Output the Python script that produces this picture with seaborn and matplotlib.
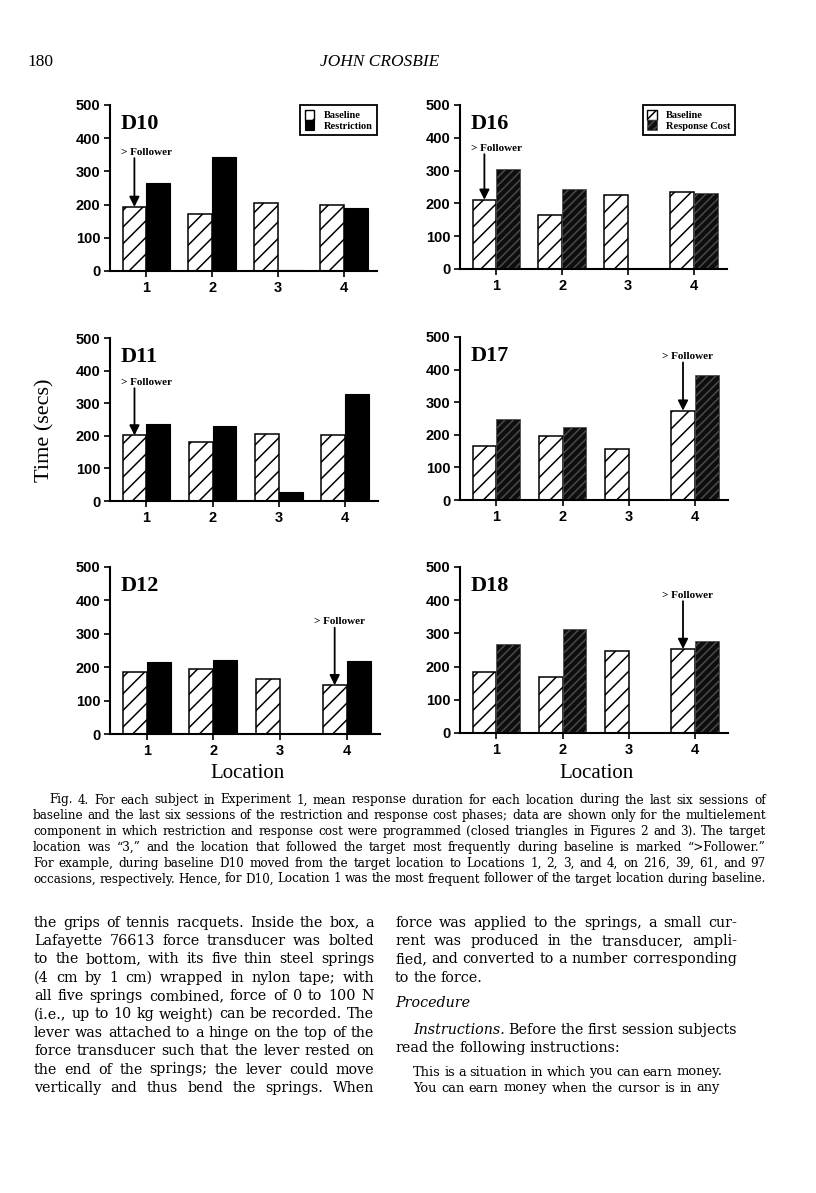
import matplotlib
matplotlib.use("Agg")
import matplotlib.pyplot as plt
import seaborn as sns
import pandas as pd
from matplotlib.patches import Patch

W, H = 816, 1193

# mean response duration (secs), locations 1-4
locations = [1, 2, 3, 4]
d10_baseline = [193, 171, 205, 200]
d10_restriction = [265, 342, 4, 190]
d11_baseline = [201, 180, 206, 201]
d11_restriction = [236, 229, 27, 327]
d12_baseline = [185, 196, 165, 146]
d12_restriction = [217, 223, 0, 219]
d16_baseline = [211, 165, 226, 234]
d16_cost = [305, 243, 0, 232]
d17_baseline = [165, 195, 157, 274]
d17_cost = [250, 224, 0, 384]
d18_baseline = [185, 170, 246, 253]
d18_cost = [267, 312, 0, 278]

# subject, phase, baseline, treatment, follower location
panels = [
    ("D10", "Restriction", d10_baseline, d10_restriction, 1),
    ("D11", "Restriction", d11_baseline, d11_restriction, 1),
    ("D12", "Restriction", d12_baseline, d12_restriction, 4),
    ("D16", "Response Cost", d16_baseline, d16_cost, 1),
    ("D17", "Response Cost", d17_baseline, d17_cost, 4),
    ("D18", "Response Cost", d18_baseline, d18_cost, 4),
]

# layout: axes box in page pixels (left, top, right, bottom), follower label placement
boxes = {
    "D10": (110, 105, 377, 271), "D11": (110, 338, 378, 501), "D12": (110, 567, 380, 734),
    "D16": (460, 105, 727, 269), "D17": (460, 337, 728, 500), "D18": (460, 567, 728, 733),
}
follower_text = {
    "D10": (-0.2, 358, "left"), "D11": (-0.2, 364, "left"), "D12": (0.07, 336, "center"),
    "D16": (-0.2, 368, "left"), "D17": (0.07, 440, "center"), "D18": (0.07, 415, "center"),
}
legend_panels = {"D10": 1.0, "D16": 1.03}

caption_lines = [
    "Fig. 4.  For each subject in Experiment 1, mean response duration for each location during the last six sessions of",
    "baseline and the last six sessions of the restriction and response cost phases; data are shown only for the multielement",
    "component in which restriction and response cost were programmed (closed triangles in Figures 2 and 3). The target",
    "location was \u201c3,\u201d and the location that followed the target most frequently during baseline is marked \u201c>Follower.\u201d",
    "For example, during baseline D10 moved from the target location to Locations 1, 2, 3, and 4, on 216, 39, 61, and 97",
    "occasions, respectively. Hence, for D10, Location 1 was the most frequent follower of the target location during baseline.",
]
left_lines = [
    "the grips of tennis racquets. Inside the box, a",
    "Lafayette 76613 force transducer was bolted",
    "to the bottom, with its five thin steel springs",
    "(4 cm by 1 cm) wrapped in nylon tape; with",
    "all five springs combined, force of 0 to 100 N",
    "(i.e., up to 10 kg weight) can be recorded. The",
    "lever was attached to a hinge on the top of the",
    "force transducer such that the lever rested on",
    "the end of the springs; the lever could move",
    "vertically and thus bend the springs. When",
]
right_lines = [
    "force was applied to the springs, a small cur-",
    "rent was produced in the transducer, ampli-",
    "fied, and converted to a number corresponding",
    "to the force.",
    "Procedure",
    "Instructions. Before the first session subjects",
    "read the following instructions:",
]
quote_lines = [
    "This is a situation in which you can earn money.",
    "You can earn money when the cursor is in any",
]
italic_words = {"Procedure", "Instructions."}
serif = ["DejaVu Serif", "Liberation Serif"]

sns.set_style("ticks")
plt.rcParams.update({
    "font.family": ["Liberation Sans", "DejaVu Sans"],
    "hatch.linewidth": 1.1,
    "axes.linewidth": 1.5,
    "text.color": "black",
    "axes.edgecolor": "black",
    "axes.labelcolor": "black",
    "xtick.color": "black",
    "ytick.color": "black",
})

fig = plt.figure(figsize=(W / 100, H / 100), dpi=100)
fig.patch.set_facecolor("white")


def px_axes(left, top, right, bottom):
    return fig.add_axes([left / W, 1 - bottom / H, (right - left) / W, (bottom - top) / H])


def ptext(x, y, s, **kw):
    return fig.text(x / W, 1 - y / H, s, **kw)


def treat_style(phase):
    if phase == "Response Cost":
        return dict(facecolor="#0e0e0e", edgecolor="#4a4a4a", hatch="////", linewidth=0.5)
    return dict(facecolor="black", edgecolor="black", hatch=None, linewidth=0.8)


for name, phase, base, treat, follower in panels:
    ax = px_axes(*boxes[name])
    df = pd.DataFrame({
        "Location": locations * 2,
        "Time": base + treat,
        "Phase": ["Baseline"] * 4 + [phase] * 4,
    })
    sns.barplot(data=df, x="Location", y="Time", hue="Phase", hue_order=["Baseline", phase],
                palette=["white", "black"], width=0.72, saturation=1, errorbar=None,
                legend=False, ax=ax)

    for p in ax.patches[:4]:
        p.set_facecolor("white")
        p.set_edgecolor("black")
        p.set_linewidth(1.1)
        p.set_hatch("//")
    st = treat_style(phase)
    for p in ax.patches[4:]:
        p.set_facecolor(st["facecolor"])
        p.set_edgecolor(st["edgecolor"])
        p.set_linewidth(st["linewidth"])
        if st["hatch"]:
            p.set_hatch(st["hatch"])

    ax.set_ylim(0, 500)
    ax.set_xlim(-0.55, 3.5)
    ax.set_xlabel("")
    ax.set_ylabel("")
    ax.set_yticks(range(0, 501, 100))
    ax.set_yticklabels([str(v) for v in range(0, 501, 100)], fontweight="bold")
    ax.set_xticks(range(len(locations)))
    ax.set_xticklabels([str(l) for l in locations], fontweight="bold")
    ax.tick_params(axis="both", labelsize=10.5, length=4, width=1.2, color="black", pad=3)
    sns.despine(ax=ax)
    ax.patch.set_alpha(0)

    ax.text(0.04, 0.885, name, transform=ax.transAxes, fontsize=16, fontweight="bold",
            family="Liberation Serif", ha="left", va="center")

    # follower arrow onto the baseline bar
    fb = ax.patches[follower - 1]
    bx = fb.get_x() + fb.get_width() / 2
    top = fb.get_height()
    dx, ty, ha = follower_text[name]
    ax.text(bx + dx, ty, "> Follower", ha=ha, va="center", fontsize=8, fontweight="bold",
            family="Liberation Serif")
    ax.annotate("", xy=(bx, top), xytext=(bx, ty - 18),
                arrowprops=dict(arrowstyle="-|>,head_length=0.6,head_width=0.3", color="black",
                                lw=1.3, shrinkA=0, shrinkB=0))

    if name in legend_panels:
        handles = [Patch(facecolor="white", edgecolor="black", hatch="//", linewidth=1.0),
                   Patch(facecolor=st["facecolor"], edgecolor=st["edgecolor"],
                         hatch=st["hatch"], linewidth=st["linewidth"])]
        leg = ax.legend(handles, ["Baseline", phase], loc="upper right",
                        bbox_to_anchor=(legend_panels[name], 1.0), frameon=True, fancybox=False,
                        edgecolor="black", framealpha=1,
                        prop={"family": "Liberation Serif", "weight": "bold", "size": 7.5},
                        handlelength=0.9, handleheight=1.1, handletextpad=0.9,
                        labelspacing=0.0, borderpad=0.45, borderaxespad=0)
        leg.get_frame().set_linewidth(1.3)

# shared labels
ptext(45, 430, "Time (secs)", rotation=90, family="Liberation Serif", fontsize=16,
      ha="center", va="center")
ptext(248, 773, "Location", family="Liberation Serif", fontsize=15, ha="center", va="center")
ptext(597, 773, "Location", family="Liberation Serif", fontsize=15, ha="center", va="center")

# running head
ptext(27, 62, "180", family="Liberation Serif", fontsize=12.5, ha="left", va="center")
ptext(380, 62, "JOHN CROSBIE", family="Liberation Serif", style="italic", fontsize=12.5,
      ha="center", va="center")

renderer = fig.canvas.get_renderer()


def word_widths(line, size):
    out = []
    for w in line.split():
        st = "italic" if w in italic_words else "normal"
        t = ptext(0, 0, w, family=serif, style=st, fontsize=size)
        out.append(t.get_window_extent(renderer).width)
        t.remove()
    return out


def fit_size(lines, width, min_gap=0.26, base=10.0):
    # biggest size at which every line still fits with a normal word space
    best = 100.0
    for line in lines:
        ws = word_widths(line, base)
        need = sum(ws) + (len(ws) - 1) * min_gap * base * 100 / 72
        best = min(best, base * width / need)
    return best


def set_line(line, x0, x1, y, size, justify=True):
    words = line.split()
    texts = []
    for w in words:
        st = "italic" if w in italic_words else "normal"
        texts.append(ptext(x0, y, w, family=serif, style=st, fontsize=size,
                           ha="left", va="center"))
    widths = [t.get_window_extent(renderer).width for t in texts]
    space = size * 100 / 72 * 0.28
    if justify and len(words) > 1:
        space = (x1 - x0 - sum(widths)) / (len(words) - 1)
    x = x0
    for t, wd in zip(texts, widths):
        t.set_x(x / W)
        x += wd + space


# figure caption
cap_size = fit_size(caption_lines[1:], 766 - 33)
for i, line in enumerate(caption_lines):
    x0 = 49 if i == 0 else 33
    set_line(line, x0, 766, 800 + 15.8 * i, cap_size)

# body text
body_size = fit_size(left_lines + right_lines[:3], 340)
for i, line in enumerate(left_lines):
    set_line(line, 34, 374, 922.7 + 18.35 * i, body_size)

right_y = [922.7, 941, 959.3, 977.7, 1003, 1030, 1048]
right_just = [True, True, True, False, False, True, False]
for line, y, j in zip(right_lines, right_y, right_just):
    x0 = 413 if line.startswith("Instructions") else 395
    set_line(line, x0, 737, y, body_size, justify=j)

quote_size = fit_size(quote_lines, 722 - 413, min_gap=0.24)
set_line(quote_lines[0], 413, 722, 1072, quote_size)
set_line(quote_lines[1], 413, 720, 1088, quote_size)

fig.savefig("out.png", dpi=100, facecolor="white")
